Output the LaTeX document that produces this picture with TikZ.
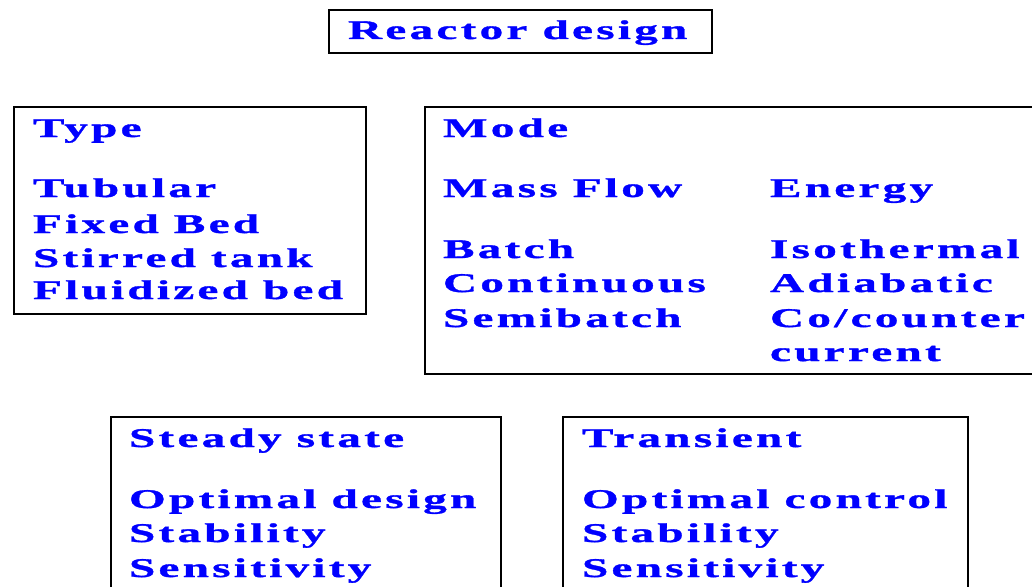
\documentclass[tikz,border=0pt]{standalone}
\usepackage{fontspec}
\newfontfamily\df{Liberation Serif}[UprightFont={* Bold},FakeStretch=1.75,LetterSpace=12,FakeBold=1.2]
\definecolor{txtblue}{RGB}{0,0,255}
\begin{document}
\begin{tikzpicture}[x=1pt,y=-1pt,
  boxline/.style={draw=black,line width=1.6pt},
  lbl/.style={anchor=base west,inner sep=0pt,outer sep=0pt,text=txtblue,font=\df\fontsize{27}{27}\selectfont}]
\useasboundingbox (0,0) rectangle (1032,586);
\clip (0,0) rectangle (1032,586);
% boxes
\draw[boxline] (329,10) rectangle (712,53) coordinate (rdbox);
\draw[boxline] (14,107) rectangle (366,314) coordinate (typebox);
\draw[boxline] (425,107) rectangle (1045,374) coordinate (modebox);
\draw[boxline] (111,417) rectangle (501,600) coordinate (ssbox);
\draw[boxline] (563,417) rectangle (968,600) coordinate (trbox);
% texts
\node[lbl] (rd) at (348,39) {Reactor design};
\node[lbl] (type) at (33,137) {Type};
\node[lbl] (tub) at (33,197) {Tubular};
\node[lbl] (fix) at (33,233) {Fixed Bed};
\node[lbl] (stir) at (33,267) {Stirred tank};
\node[lbl] (flu) at (33,299) {Fluidized bed};
\node[lbl] (mode) at (443,137) {Mode};
\node[lbl] (mass) at (443,197) {Mass Flow};
\node[lbl] (batch) at (443,258) {Batch};
\node[lbl] (cont) at (443,292) {Continuous};
\node[lbl] (semi) at (443,327) {Semibatch};
\node[lbl] (energy) at (770,197) {Energy};
\node[lbl] (iso) at (770,258) {Isothermal};
\node[lbl] (adia) at (770,292) {Adiabatic};
\node[lbl] (coc) at (770,327) {Co/counter};
\node[lbl] (cur) at (770,361) {current};
\node[lbl] (ss) at (129,447) {Steady state};
\node[lbl] (optd) at (129,508) {Optimal design};
\node[lbl] (stab1) at (129,542) {Stability};
\node[lbl] (sens1) at (129,577) {Sensitivity};
\node[lbl] (tr) at (582,447) {Transient};
\node[lbl] (optc) at (582,508) {Optimal control};
\node[lbl] (stab2) at (582,542) {Stability};
\node[lbl] (sens2) at (582,577) {Sensitivity};
\end{tikzpicture}
\end{document}
